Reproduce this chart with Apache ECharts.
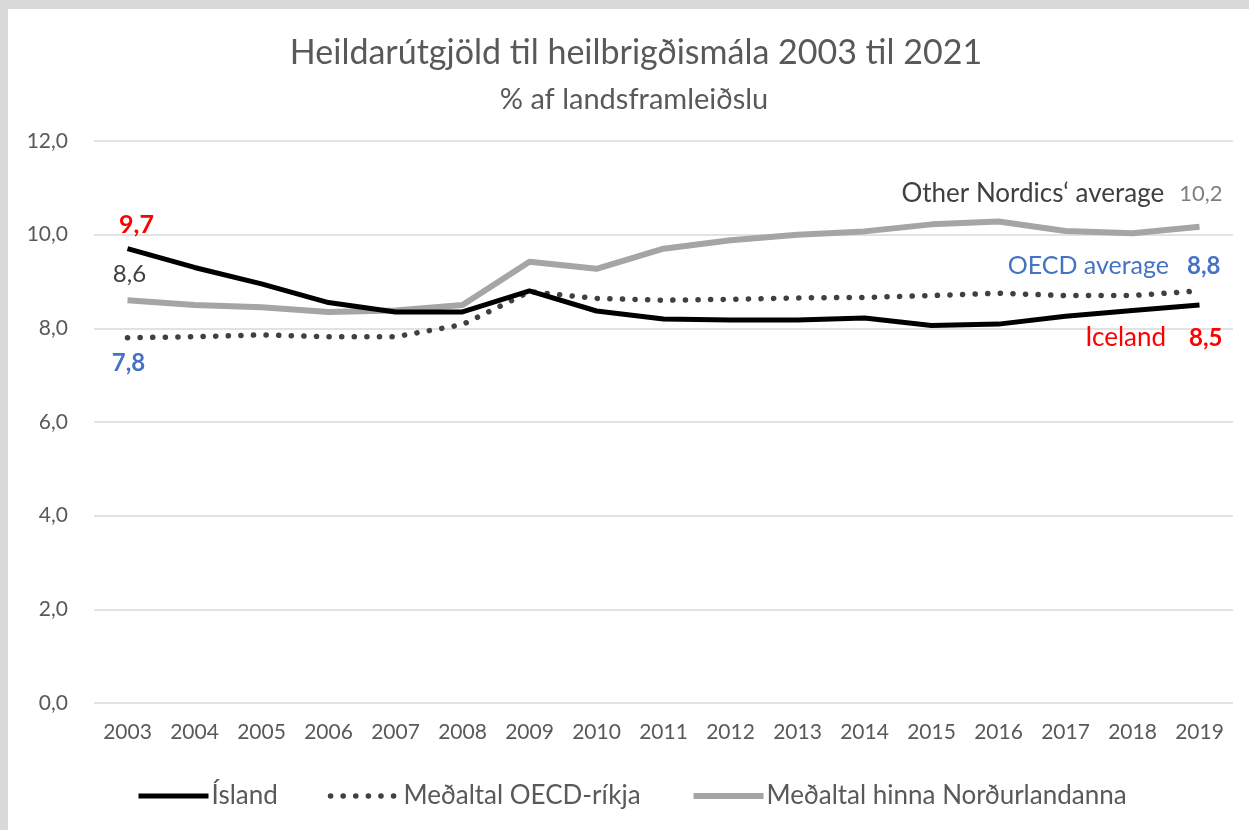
<!DOCTYPE html>
<html>
<head>
<meta charset="utf-8">
<script src="https://cdn.jsdelivr.net/npm/echarts@6/dist/echarts.min.js"></script>
<style>
  html, body { margin: 0; padding: 0; background: #d9d9d9; }
  #lineChart { position: absolute; left: 8px; top: 9px; width: 1241px; height: 821px; background: #fff; }
</style>
</head>
<body>
<div id="lineChart"></div>
<script>
// ár
var years = ['2003', '2004', '2005', '2006', '2007', '2008', '2009', '2010', '2011',
  '2012', '2013', '2014', '2015', '2016', '2017', '2018', '2019']
// Ísland
var iceland = [9.7, 9.3, 8.95, 8.55, 8.35, 8.35, 8.8, 8.37, 8.2, 8.18, 8.18, 8.22, 8.06, 8.09, 8.26, 8.38, 8.5]
// Meðaltal OECD-ríkja
var oecd = [7.8, 7.82, 7.86, 7.82, 7.82, 8.08, 8.78, 8.64, 8.6, 8.62, 8.65, 8.66, 8.7, 8.75, 8.7, 8.7, 8.8]
// Meðaltal hinna Norðurlandanna
var nordics = [8.6, 8.5, 8.45, 8.35, 8.38, 8.5, 9.42, 9.27, 9.7, 9.88, 10.0, 10.07, 10.22, 10.28, 10.08, 10.03, 10.17]
var yTicks = [0, 2, 4, 6, 8, 10, 12]

var FONT = 'Lato'
function fmt(v) {
  return v.toFixed(1).replace('.', ',')
}
function valueText(p) {
  return fmt(p.value)
}

// merkja fyrsta og síðasta gildi
function withLabels(values, first, last) {
  return values.map(function (v, i) {
    var lab = i === 0 ? first : (i === values.length - 1 ? last : null)
    if (!lab) return v
    return { value: v, symbol: 'circle', symbolSize: 0, label: Object.assign({ show: true, fontFamily: FONT }, lab) }
  })
}

var chart = echarts.init(document.getElementById('lineChart'))
chart.setOption({
  animation: false,
  title: [
    {
      text: 'Heildarútgjöld til heilbrigðismála 2003 til 2021',
      left: 623, top: 22, textAlign: 'center',
      textStyle: { fontFamily: FONT, fontSize: 34, fontWeight: 'normal', color: '#595959' }
    },
    {
      text: '% af landsframleiðslu',
      left: 621, top: 71, textAlign: 'center',
      textStyle: { fontFamily: FONT, fontSize: 29, fontWeight: 'normal', color: '#595959' }
    }
  ],
  grid: { left: 86, right: 16, top: 132, bottom: 127 },
  legend: {
    left: 123, top: 769,
    itemWidth: 70, itemHeight: 14, itemGap: 50,
    itemStyle: { opacity: 0 },
    lineStyle: { width: 'inherit' },
    textStyle: { fontFamily: FONT, fontSize: 26, color: '#595959', padding: [0, 0, 0, -2] },
    data: ['Ísland', 'Meðaltal OECD-ríkja', 'Meðaltal hinna Norðurlandanna']
  },
  xAxis: {
    type: 'category',
    data: years,
    axisLine: { show: false },
    axisTick: { show: false },
    axisLabel: { fontFamily: FONT, fontSize: 21, color: '#595959', margin: 19 }
  },
  yAxis: {
    type: 'value',
    min: yTicks[0], max: yTicks[yTicks.length - 1], interval: 2,
    axisLabel: { fontFamily: FONT, fontSize: 21, color: '#595959', margin: 26, formatter: fmt },
    splitLine: { lineStyle: { color: '#d9d9d9', width: 1.5 } }
  },
  series: [
    {
      name: 'Meðaltal hinna Norðurlandanna',
      type: 'line',
      symbol: 'none',
      z: 2,
      lineStyle: { color: '#a5a5a5', width: 6 },
      itemStyle: { color: '#a5a5a5' },
      data: withLabels(nordics,
        { position: 'top', distance: 12, offset: [2, 0], fontSize: 24, lineHeight: 28, color: '#404040', formatter: valueText },
        { position: 'top', distance: 18, align: 'right', offset: [23, 0],
          formatter: function (p) { return '{n|Other Nordics‘ average}{v|' + fmt(p.value) + '}' },
          rich: {
            n: { fontFamily: FONT, fontSize: 26, lineHeight: 30, color: '#404040', padding: [0, 15, 0, 0] },
            v: { fontFamily: FONT, fontSize: 22, lineHeight: 30, color: '#7f7f7f' }
          } })
    },
    {
      name: 'Meðaltal OECD-ríkja',
      type: 'line',
      symbol: 'none',
      z: 3,
      lineStyle: { color: '#404040', width: 5.5, type: [0.1, 12.5], cap: 'round' },
      itemStyle: { color: '#404040' },
      data: withLabels(oecd,
        { position: 'bottom', distance: 12, offset: [1, 0], fontSize: 24, lineHeight: 28, fontWeight: 'bold', color: '#4472c4', formatter: valueText },
        { position: 'top', distance: 10, align: 'right', offset: [21, 0],
          formatter: function (p) { return '{n|OECD average}{v|' + fmt(p.value) + '}' },
          rich: {
            n: { fontFamily: FONT, fontSize: 25, lineHeight: 30, color: '#4472c4', padding: [0, 18, 0, 0] },
            v: { fontFamily: FONT, fontSize: 24, lineHeight: 30, fontWeight: 'bold', color: '#4472c4' }
          } })
    },
    {
      name: 'Ísland',
      type: 'line',
      symbol: 'none',
      z: 4,
      lineStyle: { color: '#000', width: 5 },
      itemStyle: { color: '#000' },
      data: withLabels(iceland,
        { position: 'top', distance: 10, offset: [9, 0], fontSize: 25, lineHeight: 28, fontWeight: 'bold', color: '#ff0000', formatter: valueText },
        { position: 'bottom', distance: 18, align: 'right', offset: [23, 0],
          formatter: function (p) { return '{n|Iceland}{v|' + fmt(p.value) + '}' },
          rich: {
            n: { fontFamily: FONT, fontSize: 26, lineHeight: 30, color: '#ff0000', padding: [0, 23, 0, 0] },
            v: { fontFamily: FONT, fontSize: 24, lineHeight: 30, fontWeight: 'bold', color: '#ff0000' }
          } })
    }
  ]
})
</script>
</body>
</html>
